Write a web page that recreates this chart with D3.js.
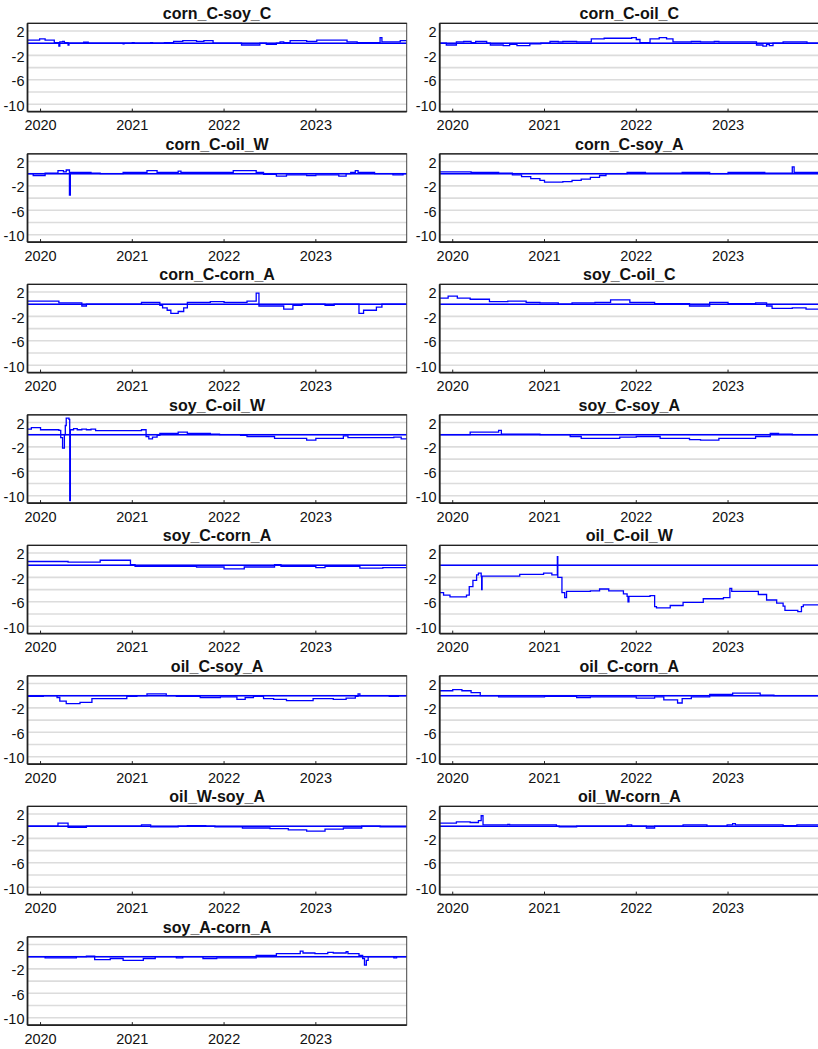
<!DOCTYPE html>
<html><head><meta charset="utf-8">
<script src="https://cdn.jsdelivr.net/npm/d3@7"></script>
<style>
body{margin:0;background:#fff}
svg{display:block}
text{font-family:"Liberation Sans",Arial,sans-serif;fill:#111}
</style>
</head><body><svg id="c" width="818" height="1049"></svg>
<script>
// ---- data (time in decimal years, value) ----
const panelTitles = ["corn_C-soy_C","corn_C-oil_C","corn_C-oil_W","corn_C-soy_A","corn_C-corn_A","soy_C-oil_C","soy_C-oil_W","soy_C-soy_A","soy_C-corn_A","oil_C-oil_W","oil_C-soy_A","oil_C-corn_A","oil_W-soy_A","oil_W-corn_A","soy_A-corn_A"];
const yearTicks = [2020,2021,2022,2023];
const yearLabels = ["2020","2021","2022","2023"];
const yTickValues = [2,-2,-6,-10];
const gridValues = [2,0,-2,-4,-6,-8,-10];
const referenceLevel = 0;

const s_cornC_soyC = [[2019.86,0.5],[2019.99,0.7],[2020.05,0.5],[2020.15,0.1],[2020.2,-0.5],[2020.21,0.2],[2020.24,0.3],[2020.26,0.1],[2020.3,-0.3],[2020.31,0],[2020.47,0.15],[2020.52,0],[2020.9,-0.1],[2020.91,0],[2021.0,0.1],[2021.02,0],[2021.2,0.1],[2021.22,0],[2021.35,0.1],[2021.45,0.3],[2021.55,0.4],[2021.7,0.3],[2021.78,0.4],[2021.88,0],[2022.19,-0.3],[2022.39,0],[2022.46,-0.2],[2022.57,0],[2022.61,0.2],[2022.65,0.1],[2022.72,0.4],[2022.9,0.3],[2023.01,0.5],[2023.34,0.2],[2023.45,0.1],[2023.70,0.9],[2023.72,0.2],[2023.92,0.4],[2023.99,0.4]];
const s_cornC_oilC = [[2019.86,0],[2019.93,-0.3],[2020.04,0.2],[2020.12,0.3],[2020.2,0.1],[2020.25,0.3],[2020.37,0],[2020.41,-0.3],[2020.55,-0.4],[2020.62,-0.2],[2020.7,-0.4],[2020.84,-0.1],[2020.96,0],[2021.06,0.3],[2021.15,0.2],[2021.2,0.3],[2021.35,0.2],[2021.51,0.7],[2021.65,0.8],[2021.95,0.9],[2022.0,0.6],[2022.04,0.1],[2022.15,0.7],[2022.25,0.9],[2022.33,0.7],[2022.4,0.2],[2022.6,0.3],[2022.7,0.2],[2022.85,0.3],[2022.9,0.2],[2023.31,-0.3],[2023.38,-0.5],[2023.42,-0.2],[2023.45,-0.4],[2023.49,0],[2023.60,0.2],[2023.86,0],[2023.99,0]];
const s_cornC_oilW = [[2019.86,0],[2019.92,-0.3],[2020.05,0.1],[2020.19,0.5],[2020.25,0.3],[2020.28,0.6],[2020.315,-3.5],[2020.325,0.2],[2020.55,0.1],[2020.65,0],[2020.9,0.2],[2021.16,0.5],[2021.27,0.2],[2021.5,0.4],[2021.53,0.2],[2022.1,0.5],[2022.35,0.2],[2022.43,-0.1],[2022.57,-0.4],[2022.68,-0.2],[2022.9,-0.3],[2023.0,-0.2],[2023.25,-0.4],[2023.33,0],[2023.38,0.2],[2023.43,0.5],[2023.46,0.2],[2023.64,0],[2023.84,-0.2],[2023.95,0],[2023.99,0]];
const s_cornC_soyA = [[2019.86,0.3],[2020.2,0.2],[2020.5,0.1],[2020.65,-0.2],[2020.75,-0.5],[2020.85,-0.8],[2020.95,-1.1],[2021.0,-1.4],[2021.2,-1.3],[2021.3,-1.1],[2021.4,-0.9],[2021.5,-0.6],[2021.6,-0.3],[2021.67,0],[2021.9,0.2],[2022.1,0.1],[2022.5,0.2],[2022.8,0],[2023.0,0.2],[2023.4,0.1],[2023.7,1.1],[2023.72,0.2],[2023.99,0.2]];
const s_cornC_cornA = [[2019.86,0.5],[2020.2,0.2],[2020.45,-0.3],[2020.5,0],[2021.1,0.3],[2021.3,-0.2],[2021.33,-0.6],[2021.38,-1.0],[2021.42,-1.5],[2021.5,-1.2],[2021.56,-0.6],[2021.6,0.3],[2021.85,0.4],[2022.0,0.3],[2022.25,0.5],[2022.35,1.8],[2022.38,-0.3],[2022.65,-0.8],[2022.75,-0.2],[2022.85,0],[2023.1,-0.2],[2023.2,0],[2023.47,-1.5],[2023.52,-1.0],[2023.66,-0.5],[2023.72,0],[2023.99,0]];
const s_soyC_oilC = [[2019.86,1.0],[2019.95,1.3],[2020.05,1.0],[2020.19,0.8],[2020.4,0.4],[2020.6,0.5],[2020.8,0.3],[2020.95,0.2],[2021.15,0],[2021.3,0.2],[2021.55,0.3],[2021.72,0.7],[2021.93,0.3],[2022.2,0.1],[2022.58,-0.3],[2022.8,0.3],[2023.0,0.1],[2023.3,0.2],[2023.42,-0.3],[2023.48,-0.7],[2023.7,-0.6],[2023.85,-0.8],[2023.99,-0.6]];
const s_soyC_oilW = [[2019.86,0.9],[2019.9,1.15],[2020.0,0.8],[2020.2,0.7],[2020.22,-0.5],[2020.24,-2.2],[2020.26,0],[2020.27,1.5],[2020.28,2.7],[2020.31,2.5],[2020.318,-10.8],[2020.325,0.8],[2020.36,1.0],[2020.4,0.8],[2020.45,0.9],[2020.5,0.8],[2020.55,0.9],[2020.6,0.65],[2021.1,0.8],[2021.15,-0.3],[2021.18,-0.7],[2021.22,-0.4],[2021.27,-0.1],[2021.3,0.2],[2021.5,0.4],[2021.6,0.2],[2021.85,0.1],[2021.95,0],[2022.18,-0.1],[2022.25,-0.3],[2022.55,-0.6],[2022.9,-0.9],[2023.0,-0.6],[2023.3,-0.2],[2023.35,-0.5],[2023.85,-0.4],[2023.93,-0.7],[2023.99,-0.5]];
const s_soyC_soyA = [[2019.86,0],[2020.19,0.4],[2020.5,0.7],[2020.53,0.1],[2020.95,0],[2021.28,-0.3],[2021.4,-0.6],[2021.82,-0.4],[2022.0,-0.3],[2022.26,-0.6],[2022.58,-0.8],[2022.7,-0.9],[2022.9,-0.6],[2023.3,-0.3],[2023.46,0.2],[2023.55,0.1],[2023.7,0],[2023.99,0]];
const s_soyC_cornA = [[2019.86,0.6],[2020.3,0.5],[2020.65,0.8],[2020.98,0.1],[2021.03,-0.2],[2021.7,-0.3],[2022.0,-0.6],[2022.22,-0.3],[2022.55,0.1],[2022.62,-0.2],[2023.0,-0.4],[2023.1,-0.2],[2023.48,-0.5],[2023.73,-0.4],[2023.99,-0.4]];
const s_oilC_oilW = [[2019.86,-4.5],[2019.9,-4.9],[2019.97,-5.2],[2020.15,-4.9],[2020.18,-3.5],[2020.22,-2.5],[2020.26,-1.6],[2020.28,-1.3],[2020.31,-1.8],[2020.315,-4.0],[2020.32,-1.8],[2020.73,-1.5],[2020.99,-1.3],[2021.08,-1.6],[2021.14,1.4],[2021.145,-2.0],[2021.19,-4.5],[2021.22,-5.3],[2021.24,-4.3],[2021.5,-4.2],[2021.6,-3.9],[2021.7,-4.2],[2021.86,-4.7],[2021.9,-5.1],[2021.91,-6.0],[2021.92,-5.1],[2022.15,-5.0],[2022.2,-6.8],[2022.22,-7.0],[2022.37,-6.6],[2022.51,-6.1],[2022.73,-5.5],[2022.95,-5.3],[2023.02,-3.8],[2023.04,-4.3],[2023.33,-4.8],[2023.42,-5.7],[2023.53,-6.2],[2023.6,-6.7],[2023.62,-7.4],[2023.76,-7.6],[2023.8,-6.8],[2023.82,-6.5],[2023.99,-6.5]];
const s_oilC_soyA = [[2019.86,-0.1],[2020.03,0],[2020.18,-0.3],[2020.21,-0.9],[2020.28,-1.3],[2020.43,-1.1],[2020.56,-0.5],[2020.94,-0.1],[2021.05,0],[2021.16,0.3],[2021.37,0],[2021.48,-0.1],[2021.74,-0.3],[2021.96,-0.2],[2022.14,-0.6],[2022.23,-0.3],[2022.32,-0.1],[2022.43,-0.5],[2022.54,-0.6],[2022.68,-0.8],[2022.97,-0.5],[2023.19,-0.6],[2023.33,-0.4],[2023.43,-0.1],[2023.46,0.3],[2023.48,0],[2023.8,-0.1],[2023.9,0],[2023.99,0]];
const s_oilC_cornA = [[2019.86,0.8],[2020.0,1.0],[2020.1,0.8],[2020.2,0.5],[2020.3,0],[2020.5,-0.2],[2021.0,-0.1],[2021.35,-0.3],[2021.5,-0.2],[2022.0,-0.4],[2022.2,-0.2],[2022.3,-0.7],[2022.45,-1.2],[2022.5,-0.5],[2022.6,-0.2],[2022.8,0.2],[2023.05,0.4],[2023.35,0.1],[2023.5,0],[2023.99,0]];
const s_oilW_soyA = [[2019.86,0],[2020.19,0.5],[2020.3,-0.2],[2020.5,0],[2021.1,0.2],[2021.2,-0.1],[2021.5,0],[2021.6,0.1],[2021.8,0],[2021.9,-0.1],[2022.2,-0.3],[2022.5,-0.4],[2022.7,-0.6],[2022.9,-0.8],[2023.1,-0.5],[2023.3,-0.3],[2023.5,0],[2023.7,-0.1],[2023.99,-0.1]];
const s_oilW_cornA = [[2019.86,0.5],[2020.04,0.7],[2020.19,0.6],[2020.28,0.9],[2020.31,1.7],[2020.33,0.2],[2020.6,0.3],[2020.62,0.2],[2021.13,0],[2021.16,-0.1],[2021.35,0],[2021.9,0.2],[2021.95,0],[2022.11,-0.3],[2022.2,0],[2022.51,0.2],[2022.77,0],[2022.99,0.2],[2023.05,0.4],[2023.08,0.2],[2023.6,0.1],[2023.75,0.2],[2023.99,0.2]];
const s_soyA_cornA = [[2019.86,0],[2020.05,-0.2],[2020.39,0],[2020.5,0.1],[2020.59,-0.5],[2020.76,-0.3],[2020.9,-0.6],[2021.12,-0.3],[2021.25,0],[2021.48,-0.2],[2021.55,0],[2021.77,-0.3],[2021.92,-0.2],[2022.35,0.2],[2022.57,0.5],[2022.83,0.9],[2022.86,0.6],[2022.99,0.5],[2023.13,0.7],[2023.19,0.6],[2023.33,0.8],[2023.35,0.5],[2023.47,0.2],[2023.51,-0.3],[2023.53,-1.4],[2023.55,-0.6],[2023.57,0],[2023.85,-0.2],[2023.88,0],[2023.99,0]];

const seriesList = [s_cornC_soyC,s_cornC_oilC,s_cornC_oilW,s_cornC_soyA,s_cornC_cornA,s_soyC_oilC,s_soyC_oilW,s_soyC_soyA,s_soyC_cornA,s_oilC_oilW,s_oilC_soyA,s_oilC_cornA,s_oilW_soyA,s_oilW_cornA,s_soyA_cornA];

// ---- layout ----
const colX = [27.5, 439.7];
const plotW = 379.2, plotH = 88.3;
const rowTop0 = 23.3, rowPitch = 130.5;
const blue = "#0000ff";

const svg = d3.select("#c");
const x = d3.scaleLinear().domain([2019.858, 2023.99]).range([0, plotW]);
const y = d3.scaleLinear().domain([-11.2, 3.25]).range([plotH, 0]);
const line = d3.line().x(d => x(d[0])).y(d => y(d[1])).curve(d3.curveStepAfter);

seriesList.forEach((data, i) => {
  const col = i % 2, row = Math.floor(i / 2);
  const g = svg.append("g").attr("transform", `translate(${colX[col]},${rowTop0 + row * rowPitch})`);
  const clipId = "clip" + i;
  g.append("clipPath").attr("id", clipId).append("rect").attr("width", plotW).attr("height", plotH);

  // gridlines
  g.selectAll(".grid").data(gridValues).join("line")
    .attr("x1", 0).attr("x2", plotW)
    .attr("y1", d => y(d)).attr("y2", d => y(d))
    .attr("stroke", "#dcdcdc").attr("stroke-width", 1.6);

  const pg = g.append("g").attr("clip-path", `url(#${clipId})`);
  // reference line at 0
  pg.append("line").attr("x1", 0).attr("x2", plotW)
    .attr("y1", y(referenceLevel)).attr("y2", y(referenceLevel))
    .attr("stroke", blue).attr("stroke-width", 1.5);
  // series
  pg.append("path").datum(data).attr("d", line)
    .attr("fill", "none").attr("stroke", blue).attr("stroke-width", 1.3);

  // frame
  g.append("rect").attr("width", plotW).attr("height", plotH)
    .attr("fill", "none").attr("stroke", "#444").attr("stroke-width", 1);
  g.append("line").attr("x1", 0).attr("x2", 0).attr("y1", 0).attr("y2", plotH)
    .attr("stroke", "#222").attr("stroke-width", 1.8);
  g.append("line").attr("x1", 0).attr("x2", plotW).attr("y1", plotH).attr("y2", plotH)
    .attr("stroke", "#222").attr("stroke-width", 1.8);
  g.append("line").attr("x1", 0).attr("x2", plotW).attr("y1", 0).attr("y2", 0)
    .attr("stroke", "#222").attr("stroke-width", 1.3);

  // x ticks & labels
  g.selectAll(".xt").data(yearTicks).join("line")
    .attr("x1", d => x(d)).attr("x2", d => x(d))
    .attr("y1", plotH).attr("y2", plotH - 3)
    .attr("stroke", "#222").attr("stroke-width", 1);
  g.selectAll(".xl").data(yearTicks).join("text")
    .attr("x", d => x(d)).attr("y", plotH + 18.5)
    .attr("text-anchor", "middle").attr("font-size", 14.5)
    .text((d, k) => yearLabels[k]);

  // y labels
  g.selectAll(".yl").data(yTickValues).join("text")
    .attr("x", -3).attr("y", d => y(d) + 6.5)
    .attr("text-anchor", "end").attr("font-size", 14.5)
    .text(d => d);

  // title
  g.append("text").attr("x", plotW / 2).attr("y", -4)
    .attr("text-anchor", "middle").attr("font-size", 16).attr("font-weight", "bold")
    .text(panelTitles[i]);
});
</script>
</body></html>
